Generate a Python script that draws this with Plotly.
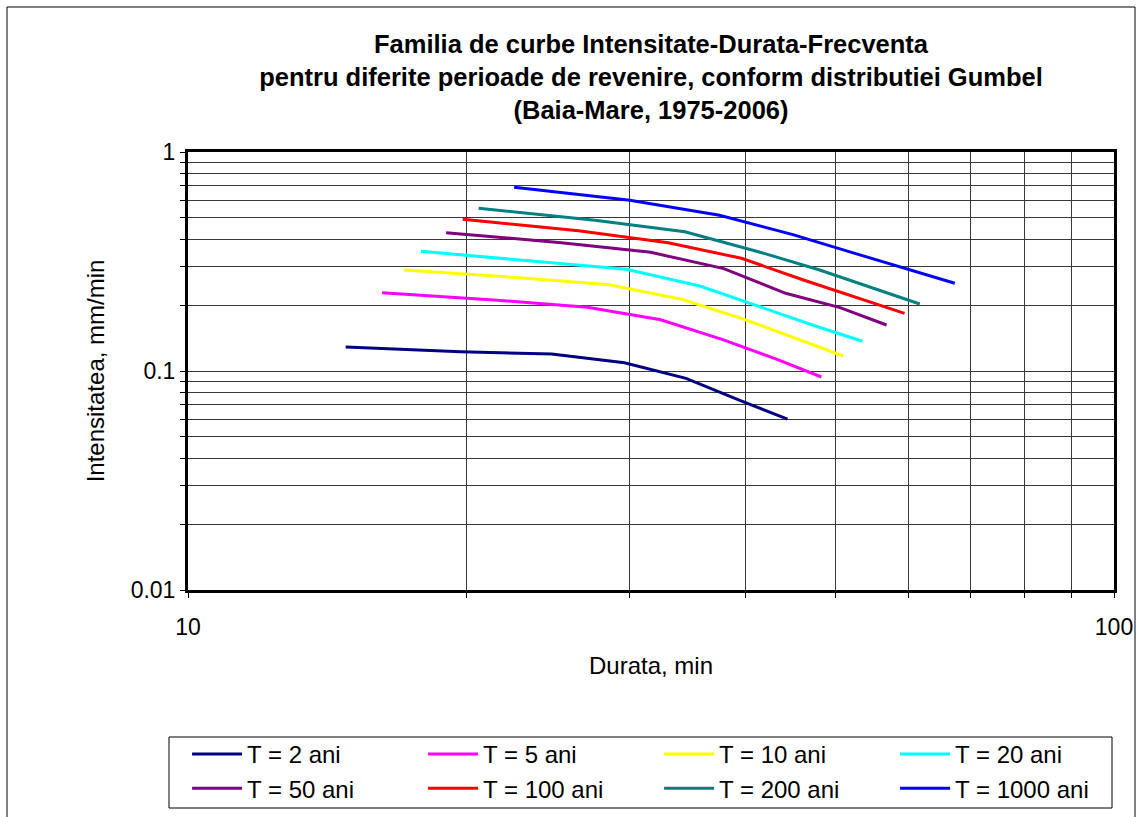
import plotly.graph_objects as go

# ---------------- data ----------------
series_names = ["T = 2 ani", "T = 5 ani", "T = 10 ani", "T = 20 ani",
                "T = 50 ani", "T = 100 ani", "T = 200 ani", "T = 1000 ani"]
series_colors = ["#000080", "#FF00FF", "#FFFF00", "#00FFFF",
                 "#800080", "#FF0000", "#008080", "#0000FF"]

x_T2 = [14.8, 19.7, 24.7, 29.6, 34.5, 39.5, 44.4]
y_T2 = [0.1287, 0.1224, 0.1196, 0.1091, 0.0926, 0.0732, 0.0603]
x_T5 = [16.2, 21.6, 27.0, 32.4, 37.8, 43.2, 48.3]
y_T5 = [0.2278, 0.2103, 0.1954, 0.1715, 0.1390, 0.1134, 0.0939]
x_T10 = [17.1, 22.8, 28.5, 34.2, 39.9, 45.6, 51.0]
y_T10 = [0.2891, 0.2667, 0.2478, 0.2120, 0.1722, 0.1392, 0.1171]
x_T20 = [17.85, 23.8, 29.75, 35.7, 41.65, 47.6, 53.5]
y_T20 = [0.352, 0.3175, 0.2912, 0.2444, 0.1945, 0.1605, 0.1367]
x_T50 = [19.0, 25.3, 31.6, 37.9, 44.2, 50.6, 56.8]
y_T50 = [0.428, 0.3853, 0.3483, 0.2933, 0.2264, 0.1948, 0.1622]
x_T100 = [19.8, 26.4, 33.0, 39.6, 46.2, 52.8, 59.4]
y_T100 = [0.4928, 0.437, 0.3853, 0.327, 0.2603, 0.2163, 0.1834]
x_T200 = [20.6, 27.5, 34.4, 41.3, 48.1, 55.0, 61.7]
y_T200 = [0.5533, 0.4877, 0.4325, 0.3506, 0.2891, 0.2383, 0.2022]
x_T1000 = [22.5, 30.0, 37.5, 45.0, 52.5, 60.0, 67.3]
y_T1000 = [0.690, 0.6017, 0.514, 0.4193, 0.3443, 0.2904, 0.2515]

series_x = [x_T2, x_T5, x_T10, x_T20, x_T50, x_T100, x_T200, x_T1000]
series_y = [y_T2, y_T5, y_T10, y_T20, y_T50, y_T100, y_T200, y_T1000]

x_tickvals = [10, 20, 30, 40, 50, 60, 70, 80, 90, 100]
x_ticktext = ["10", "", "", "", "", "", "", "", "", "100"]
y_tickvals = [0.01, 0.02, 0.03, 0.04, 0.05, 0.06, 0.07, 0.08, 0.09,
              0.1, 0.2, 0.3, 0.4, 0.5, 0.6, 0.7, 0.8, 0.9, 1]
y_ticktext = ["0.01", "", "", "", "", "", "", "", "",
              "0.1", "", "", "", "", "", "", "", "", "1"]

title_text = ("Familia de curbe Intensitate-Durata-Frecventa<br>"
              "pentru diferite perioade de revenire, conform distributiei Gumbel<br>"
              "(Baia-Mare, 1975-2006)")

FONT = "Liberation Sans, Arial, sans-serif"

fig = go.Figure()
for name, col, xs, ys in zip(series_names, series_colors, series_x, series_y):
    fig.add_trace(go.Scatter(x=xs, y=ys, mode="lines", name=name,
                             line=dict(color=col, width=3)))

W, H = 1145, 817
L, R, T, B = 188, 31, 152, 227
pw, ph = W - L - R, H - T - B


def px2x(px):
    return (px - L) / pw


def py2y(py):
    return (H - B - py) / ph


axis_common = dict(
    type="log", showgrid=True, gridcolor="#383838", gridwidth=1,
    ticks="outside", ticklen=5, tickcolor="black", tickwidth=1,
    showline=True, linewidth=3, linecolor="black", mirror=True,
    zeroline=False, tickfont=dict(family=FONT, size=23, color="black"),
)

fig.update_layout(
    width=W, height=H,
    margin=dict(l=L, r=R, t=T, b=B, autoexpand=False),
    paper_bgcolor="white", plot_bgcolor="white",
    font=dict(family=FONT, color="black"),
    title=dict(text=title_text, x=0.5, xanchor="center", xref="paper",
               y=1 - 53 / H, yref="container", yanchor="top",
               font=dict(family=FONT, size=25.5, color="black", weight="bold")),
    xaxis=dict(axis_common, range=[1, 2], tickvals=x_tickvals, ticktext=x_ticktext,
               ticklabelstandoff=9,
               title=dict(text="Durata, min", standoff=19,
                          font=dict(family=FONT, size=24, color="black"))),
    yaxis=dict(axis_common, range=[-2, 0], tickvals=y_tickvals, ticktext=y_ticktext,
               title=dict(text="Intensitatea, mm/min", standoff=20,
                          font=dict(family=FONT, size=24, color="black"))),
    legend=dict(orientation="h", x=-0.001, xanchor="left",
                y=py2y(732), yanchor="top",
                itemwidth=50, entrywidth=171, entrywidthmode="pixels",
                bgcolor="rgba(0,0,0,0)", borderwidth=0,
                font=dict(family=FONT, size=24, color="black")),
    shapes=[
        dict(type="rect", xref="paper", yref="paper",
             x0=px2x(7), x1=px2x(1135), y0=py2y(840), y1=py2y(7),
             line=dict(color="black", width=1), fillcolor="rgba(0,0,0,0)", layer="below"),
        dict(type="rect", xref="paper", yref="paper",
             x0=px2x(169), x1=px2x(1112), y0=py2y(808), y1=py2y(737),
             line=dict(color="black", width=1), fillcolor="rgba(0,0,0,0)"),
    ],
)

fig.write_html(
    "out.html",
    config={"displayModeBar": False},
    post_script="document.body.style.margin='0px';document.body.style.overflow='hidden';",
)
